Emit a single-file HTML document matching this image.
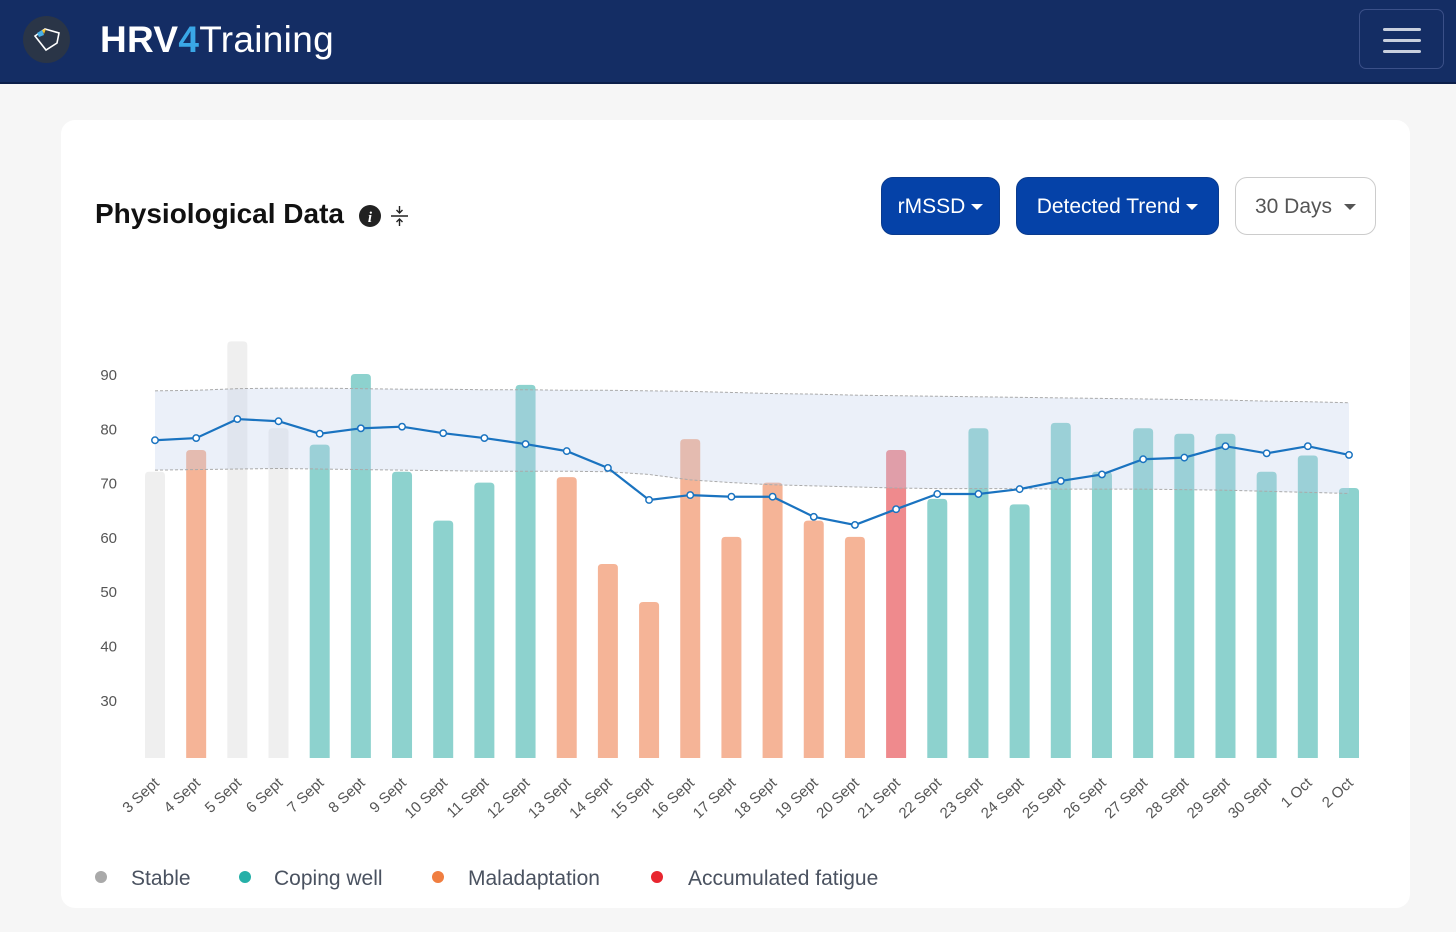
<!DOCTYPE html>
<html><head><meta charset="utf-8"><style>
body{margin:0;width:1456px;height:932px;background:#f6f6f6;font-family:"Liberation Sans",sans-serif;overflow:hidden;position:relative}
#nav{position:absolute;left:0;top:0;width:1456px;height:82px;background:#142d64;border-bottom:2px solid #0c1f4a}
#logo{position:absolute;left:23px;top:16px;width:47px;height:47px;border-radius:50%;background:#2a3547}
#brand{position:absolute;left:100px;top:19px;font-size:37px;color:#fff;letter-spacing:0.3px}
#brand b{font-weight:bold}
#menu{position:absolute;left:1359px;top:9px;width:83px;height:58px;border:1px solid #3b5088;border-radius:7px}
#menu i{position:absolute;left:23px;width:38px;height:3px;background:#c9d0de;border-radius:2px}
#card{position:absolute;left:61px;top:120px;width:1349px;height:788px;background:#fff;border-radius:14px}
#title{position:absolute;left:95px;top:198px;font-size:28px;font-weight:bold;color:#111}
.btn{position:absolute;top:177px;height:58px;border-radius:12px;font-size:21px;line-height:58px;text-align:center;box-sizing:border-box}
.blue{background:#0542a8;color:#fff;border:1px solid #0a3b8e}
.grey{background:#fff;color:#555;border:1px solid #ccc}
.caret{display:inline-block;width:0;height:0;border-left:6px solid transparent;border-right:6px solid transparent;border-top:6px solid currentColor;vertical-align:middle;margin-left:6px}
</style></head><body>
<div id="nav">
<div id="logo"><svg width="47" height="47"><path d="M12 20 L22 13 L36 17 L34 27 L23 34 Z" fill="none" stroke="#fff" stroke-width="1.6"/><path d="M14 17 L19 14 L21 19 L16 21Z" fill="#4ab0e6"/><path d="M19 14 L23 13 L21 18Z" fill="#f2c230"/></svg></div>
<div id="brand"><b>HRV</b><b style="color:#3aa7e6">4</b>Training</div>
<div id="menu"><i style="top:18px"></i><i style="top:29px"></i><i style="top:40px"></i></div>
</div>
<div id="card"></div>
<div id="title">Physiological Data</div>
<svg style="position:absolute;left:358px;top:204px" width="56" height="26"><circle cx="12" cy="12" r="11" fill="#222"/><text x="12" y="18" font-size="15" font-weight="bold" font-style="italic" fill="#fff" text-anchor="middle" font-family="Liberation Serif">i</text><g stroke="#222" stroke-width="1.4"><line x1="33" y1="12" x2="50" y2="12"/><line x1="41.5" y1="2" x2="41.5" y2="9"/><line x1="41.5" y1="15" x2="41.5" y2="22"/><path d="M38.5 6 L41.5 9 L44.5 6 M38.5 18 L41.5 15 L44.5 18" fill="none"/></g></svg>
<div class="btn blue" style="left:881px;width:119px">rMSSD<span class="caret"></span></div>
<div class="btn blue" style="left:1016px;width:203px">Detected Trend<span class="caret"></span></div>
<div class="btn grey" style="left:1235px;width:141px">30 Days<span class="caret" style="margin-left:12px"></span></div>
<svg id="chart" style="position:absolute;left:0;top:0" width="1456" height="932"></svg>
<script>
const labels=["3 Sept","4 Sept","5 Sept","6 Sept","7 Sept","8 Sept","9 Sept","10 Sept","11 Sept","12 Sept","13 Sept","14 Sept","15 Sept","16 Sept","17 Sept","18 Sept","19 Sept","20 Sept","21 Sept","22 Sept","23 Sept","24 Sept","25 Sept","26 Sept","27 Sept","28 Sept","29 Sept","30 Sept","1 Oct","2 Oct"];
const values=[72,76,96,80,77,90,72,63,70,88,71,55,48,78,60,70,63,60,76,67,80,66,81,72,80,79,79,72,75,69];
const status=["s","m","s","s","c","c","c","c","c","c","m","m","m","m","m","m","m","m","f","c","c","c","c","c","c","c","c","c","c","c"];
const trend=[77.8,78.2,81.7,81.3,79,80,80.3,79.1,78.2,77.1,75.8,72.7,66.8,67.7,67.4,67.4,63.7,62.2,65.1,67.9,67.9,68.8,70.3,71.5,74.3,74.6,76.7,75.4,76.7,75.1];
const upper=[86.9,87.0,87.3,87.4,87.4,87.3,87.2,87.2,87.1,87.1,87.0,87.0,86.9,86.8,86.6,86.4,86.3,86.1,86.0,85.9,85.8,85.7,85.6,85.5,85.4,85.3,85.2,85.0,84.9,84.7];
const lower=[72.3,72.4,72.5,72.6,72.5,72.4,72.3,72.2,72.1,72.1,72.1,72.0,71.5,70.5,70.0,69.6,69.4,69.2,69.0,68.9,68.9,68.9,68.8,68.8,68.8,68.7,68.6,68.4,68.2,68.0];
const yTicks=[30,40,50,60,70,80,90];
const colors={s:"#efefef",c:"#8dd2ce",m:"#f5b497",f:"#ef8a8d"};
const svg=document.getElementById('chart');const NS="http://www.w3.org/2000/svg";
const X=i=>155+i*(1349-155)/(labels.length-1);
const Y=v=>374+(90-v)*5.43;
const base=758;
function mk(t,a,p){const e=document.createElementNS(NS,t);for(const k in a)e.setAttribute(k,a[k]);(p||svg).appendChild(e);return e;}
yTicks.forEach(t=>{const e=mk('text',{x:117,y:Y(t)+6,'font-size':15,fill:'#555','text-anchor':'end'});e.textContent=t;

});
values.forEach((v,i)=>{const x=X(i)-10,y=Y(v);
const p=mk('path',{d:`M${x} ${base} V${y+4} Q${x} ${y} ${x+4} ${y} H${x+16} Q${x+20} ${y} ${x+20} ${y+4} V${base} Z`,fill:colors[status[i]]});


const t=mk('text',{x:X(i)+5,y:784,'font-size':15,fill:'#555','text-anchor':'end',transform:`rotate(-43 ${X(i)+5} 784)`});t.textContent=labels[i];

});
let band="M"+upper.map((v,i)=>X(i)+" "+Y(v)).join(" L")+" L"+lower.map((v,i)=>X(i)+" "+Y(v)).reverse().join(" L")+"Z";
const b=mk('path',{d:band,fill:'rgba(190,205,235,0.3)'});


[upper,lower].forEach((arr,k)=>{const l=mk('polyline',{points:arr.map((v,i)=>X(i)+","+Y(v)).join(" "),fill:'none',stroke:'#aaa','stroke-width':1,'stroke-dasharray':'3 2'});

});
const tl=mk('polyline',{points:trend.map((v,i)=>X(i)+","+Y(v)).join(" "),fill:'none',stroke:'#1a73c0','stroke-width':2.2});


trend.forEach((v,i)=>{const c=mk('circle',{cx:X(i),cy:Y(v),r:3.2,fill:'#fff',stroke:'#1a73c0','stroke-width':1.5});

});
const legend=[["Stable","#a9a9a9",101,131],["Coping well","#26b0a8",245,274],["Maladaptation","#f07e40",438,468],["Accumulated fatigue","#e8262f",657,688]];
legend.forEach(l=>{const g=mk('g',{});


mk('circle',{cx:l[2],cy:877,r:6,fill:l[1]},g);const t=mk('text',{x:l[3],y:885,'font-size':21,fill:'#4a5260'},g);t.textContent=l[0];});
</script>
</body></html>
